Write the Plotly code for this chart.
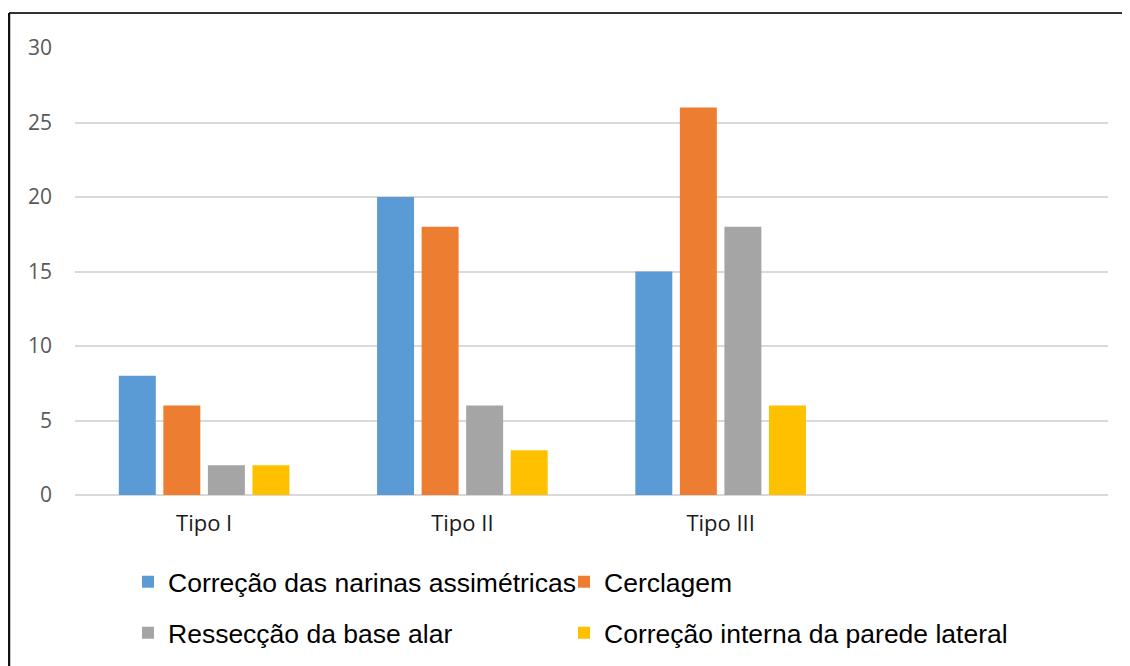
import plotly.graph_objects as go

tipos = ["Tipo I", "Tipo II", "Tipo III"]
narinas = [8, 20, 15]
cerclagem = [6, 18, 26]
resseccao = [2, 6, 18]
parede = [2, 3, 6]

series = [
    ("Correção das narinas assimétricas", narinas, "#5B9BD5"),
    ("Cerclagem", cerclagem, "#ED7D31"),
    ("Ressecção da base alar", resseccao, "#A5A5A5"),
    ("Correção interna da parede lateral", parede, "#FFC000"),
]

# a página tem 8px de margem no body
W, H = 1122, 658
L, R, T, B = 67, 22, 40, 171
pw, ph = W - L - R, H - T - B

# posição (px) de cada legenda: colunas e linhas
leg_x = [120, 556, 120, 556]
leg_y = [574, 574, 625, 625]
leg_font = dict(family="Liberation Sans, Arial", size=26.5, color="#000000")

fig = go.Figure()
legends = {}
for i, (nome, vals, cor) in enumerate(series):
    lid = "legend" if i == 0 else f"legend{i + 1}"
    fig.add_trace(go.Bar(x=tipos, y=vals, name=nome, marker_color=cor,
                         marker_line_width=0, legend=lid, showlegend=True))
    legends[lid] = dict(orientation="h", x=leg_x[i] / W, xref="container",
                        y=1 - leg_y[i] / H, yref="container", yanchor="middle",
                        font=leg_font, visible=True, bgcolor="rgba(0,0,0,0)")

fig.update_layout(
    width=W, height=H,
    margin=dict(l=L, r=R, t=T, b=B),
    showlegend=True,
    paper_bgcolor="white", plot_bgcolor="white",
    barmode="group", bargap=0.31, bargroupgap=0.17,
    font=dict(family="Open Sans", size=21, color="#595959"),
    xaxis=dict(range=[-0.5, 3.5], showgrid=False, showline=False, ticks="",
               tickfont=dict(color="#1a1a1a", size=22), ticklabelstandoff=13),
    yaxis=dict(range=[0, 30], dtick=5, gridcolor="#D9D9D9", gridwidth=1.5,
               zeroline=True, zerolinecolor="#D9D9D9", zerolinewidth=1.5,
               showline=False, ticks="", ticklabelstandoff=22),
    **legends,
)

# moldura preta (topo e esquerda)
x0 = (1 - L) / pw
y0 = (ph + T - 5) / ph
fig.add_shape(type="line", xref="paper", yref="paper", x0=x0, x1=(W - L) / pw,
              y0=y0, y1=y0, line=dict(color="#333333", width=2))
fig.add_shape(type="line", xref="paper", yref="paper", x0=x0, x1=x0,
              y0=y0, y1=-B / ph, line=dict(color="#111111", width=2.5))

fig.write_html("out.html")
